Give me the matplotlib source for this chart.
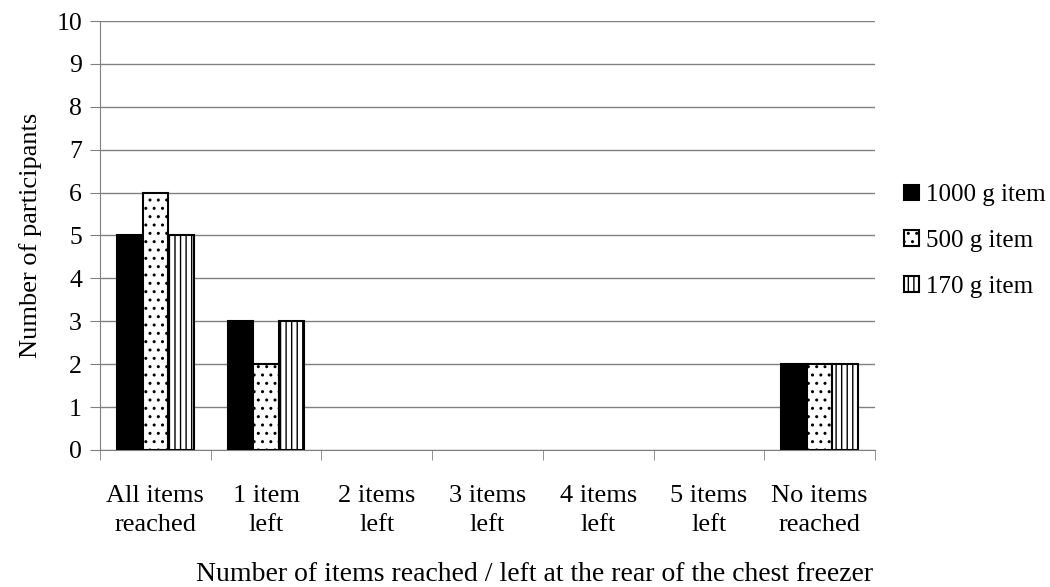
import numpy as np
import matplotlib.pyplot as plt

categories = ['All items\nreached', '1 item\nleft', '2 items\nleft', '3 items\nleft',
              '4 items\nleft', '5 items\nleft', 'No items\nreached']
series_names = ['1000 g item', '500 g item', '170 g item']
item_1000 = [5, 3, 0, 0, 0, 0, 2]
item_500 = [6, 2, 0, 0, 0, 0, 2]
item_170 = [5, 3, 0, 0, 0, 0, 2]

plt.rcParams['font.family'] = ['Liberation Serif', 'DejaVu Serif']
plt.rcParams['hatch.linewidth'] = 1.0

fig = plt.figure(figsize=(10.5, 5.87), dpi=100)
ax = fig.add_axes([100 / 1050, 1 - 450 / 587, 775 / 1050, 429 / 587])

x = np.arange(len(categories))
w = 0.23
styles = [dict(color='black', edgecolor='black'),
          dict(color='white', edgecolor='black', hatch='..'),
          dict(color='white', edgecolor='black', hatch='|||')]
for i, (vals, name, st) in enumerate(zip([item_1000, item_500, item_170], series_names, styles)):
    lw = [1.5 if v > 0 else 0 for v in vals]  # no outline for empty bars
    ax.bar(x + (i - 1) * w, vals, w, label=name, linewidth=lw, zorder=3, **st)

ax.set_xlim(-0.5, len(categories) - 0.5)
ax.set_ylim(0, 10)
ax.set_yticks(range(0, 11))
ax.yaxis.grid(True, color='#808080', linewidth=1, zorder=0)
ax.set_xticks(x)
ax.set_xticklabels(categories, fontsize=19, linespacing=1.4)
ax.set_xticks(np.arange(-0.5, len(categories), 1), minor=True)
ax.tick_params(axis='x', which='major', length=0, pad=25)
ax.tick_params(axis='x', which='minor', length=7, color='#808080', direction='out')
ax.tick_params(axis='y', labelsize=18.5, length=7, color='#808080', direction='out', pad=6)
for s in ['top', 'right']:
    ax.spines[s].set_visible(False)
for s in ['left', 'bottom']:
    ax.spines[s].set_color('#808080')

ax.set_ylabel('Number of participants', fontsize=19, labelpad=10)
ax.set_xlabel('Number of items reached / left at the rear of the chest freezer', fontsize=20)
ax.xaxis.set_label_coords(0.561, -0.262)

leg = ax.legend(loc='center left', bbox_to_anchor=(1.008, 0.487), frameon=False, fontsize=18,
                handlelength=0.6, handleheight=0.6, handletextpad=0.3, labelspacing=0.95)
for h in leg.legend_handles:
    h.set_linewidth(1.5)

fig.savefig('out.png', dpi=100)
